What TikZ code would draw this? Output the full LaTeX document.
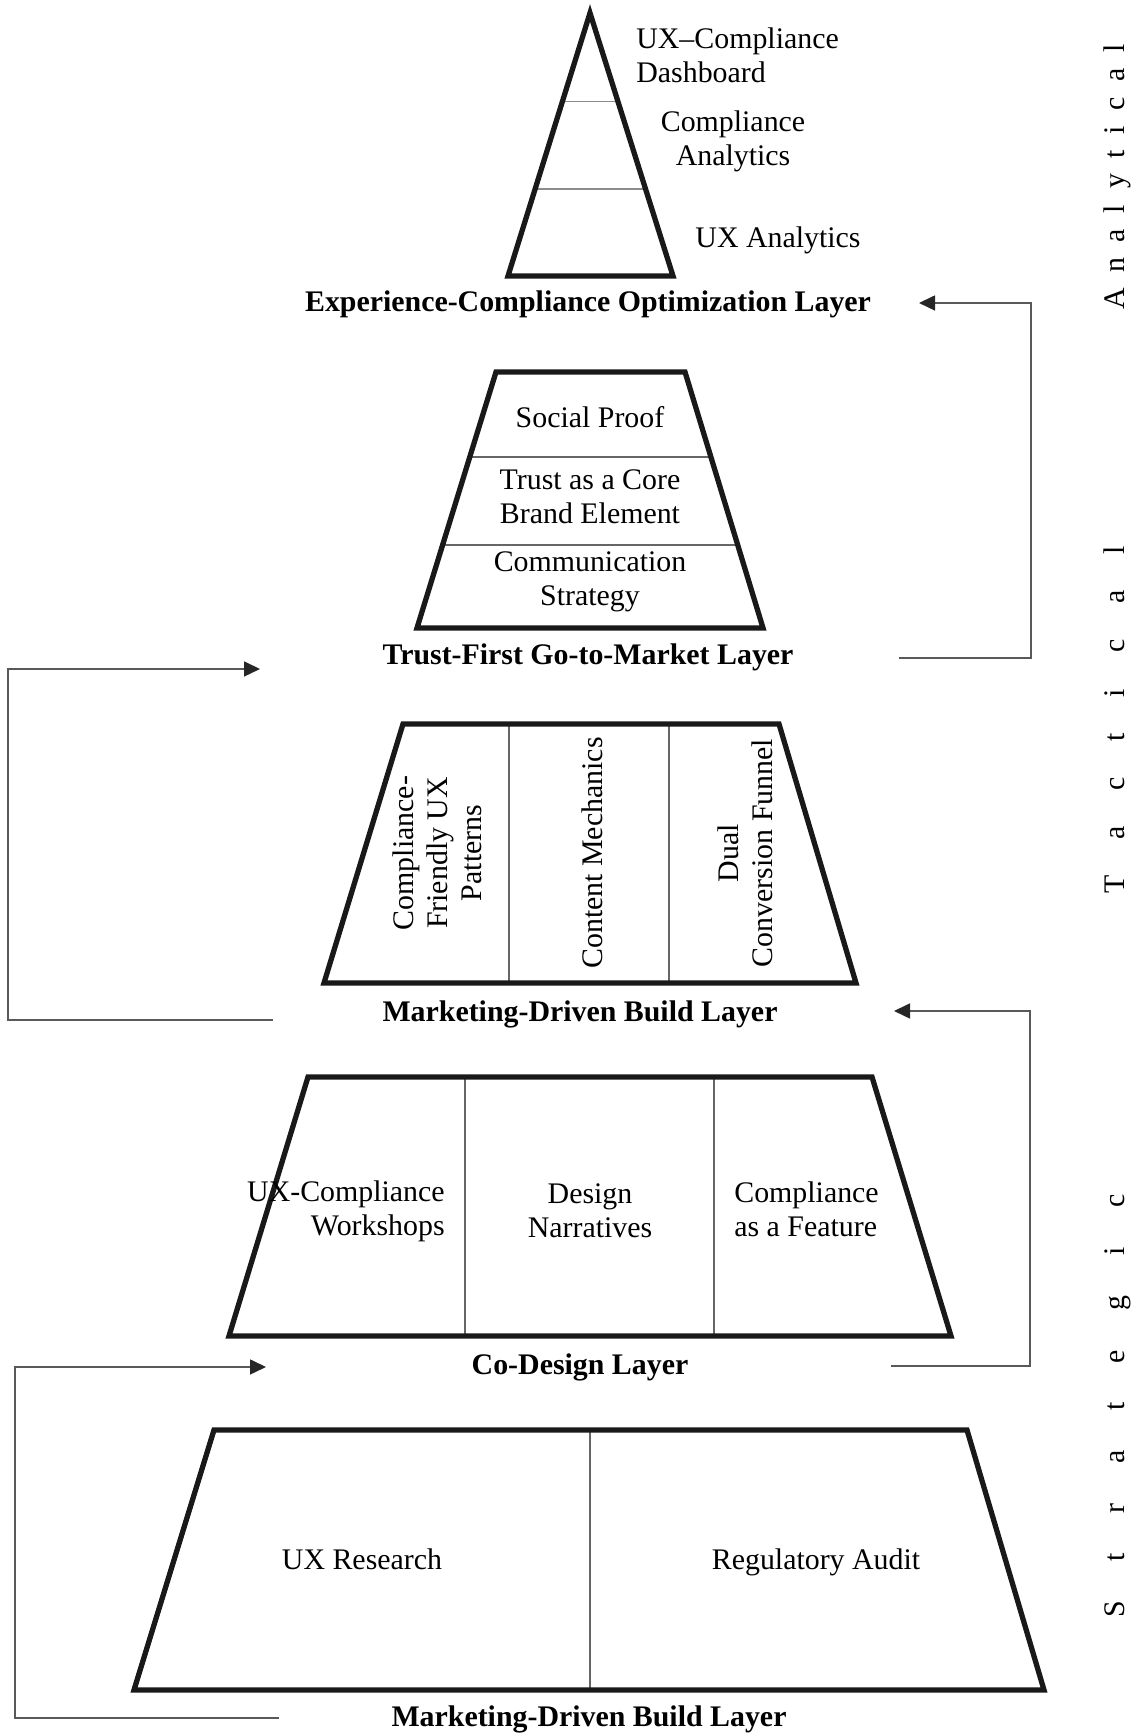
\documentclass[tikz,border=0pt]{standalone}
\usepackage{fontspec}
\setmainfont{Liberation Serif}
\usetikzlibrary{arrows.meta,calc}

\newcommand{\spreadword}[2]{\makebox[#1][s]{#2}}

\tikzset{
	layer/.style={draw=black!90, line width=3pt},
	split/.style={draw=black!60, line width=0.7pt},
	item/.style={inner sep=0pt, align=center},
	caption/.style={inner sep=0pt, anchor=base, font=\fontsize{17}{19.4}\selectfont\bfseries},
	flow/.style={draw=black!65, line width=0.9pt, ->},
	level/.style={inner sep=0pt, rotate=90, anchor=base},
}

\begin{document}
\begin{tikzpicture}[every node/.style={font=\fontsize{17}{19.4}\selectfont}, >={Triangle[length=0.32cm, width=0.3cm, color=black!85]}]
	\useasboundingbox (0,0) rectangle (22.74,34.70);
	% optimization layer (triangle)
	\coordinate (opA) at (11.80,34.44);
	\coordinate (opL) at (10.16,29.18);
	\coordinate (opR) at (13.46,29.18);
	\draw[split, draw=black!45] ($(opA)!0.338!(opL)$) -- ($(opA)!0.338!(opR)$);
	\draw[split, draw=black!45] ($(opA)!0.669!(opL)$) -- ($(opA)!0.669!(opR)$);
	\draw[layer] (opA) -- (opR) -- (opL) -- cycle;
	\node[item, anchor=west, align=left] (dash) at (12.72,33.60) {UX--Compliance\\Dashboard};
	\node[item] (cana) at (14.66,31.88) {Compliance\\Analytics};
	\node[item] (uxa) at (15.56,29.90) {UX Analytics};
	\node[caption] (optcap) at (11.76,28.46) {Experience-Compliance Optimization Layer};
	% go-to-market layer
	\coordinate (gmTL) at (9.92,27.26);
	\coordinate (gmTR) at (13.70,27.26);
	\coordinate (gmBR) at (15.26,22.14);
	\coordinate (gmBL) at (8.34,22.14);
	\draw[split] ($(gmTL)!0.332!(gmBL)$) -- ($(gmTR)!0.332!(gmBR)$);
	\draw[split] ($(gmTL)!0.676!(gmBL)$) -- ($(gmTR)!0.676!(gmBR)$);
	\draw[layer] (gmTL) -- (gmTR) -- (gmBR) -- (gmBL) -- cycle;
	\node[item] (proof) at (11.80,26.36) {Social Proof};
	\node[item] (core) at (11.80,24.76) {Trust as a Core\\Brand Element};
	\node[item] (comm) at (11.80,23.07) {Communication\\Strategy};
	\node[caption] (gtmcap) at (11.76,21.40) {Trust-First Go-to-Market Layer};
	% build layer
	\draw[split] (10.18,20.22) -- (10.18,15.04);
	\draw[split] (13.38,20.22) -- (13.38,15.04);
	\draw[layer] (8.06,20.22) -- (15.58,20.22) -- (17.12,15.04) -- (6.48,15.04) -- cycle;
	\node[item, rotate=90] (ptn) at (8.74,17.64) {Compliance-\\Friendly UX\\Patterns};
	\node[item, rotate=90] (mech) at (11.84,17.64) {Content Mechanics};
	\node[item, rotate=90] (fun) at (14.90,17.64) {Dual\\Conversion Funnel};
	\node[caption] (buildcap) at (11.60,14.26) {Marketing-Driven Build Layer};
	% co-design layer
	\draw[split] (9.30,13.16) -- (9.30,7.98);
	\draw[split] (14.28,13.16) -- (14.28,7.98);
	\draw[layer] (6.16,13.16) -- (17.44,13.16) -- (19.02,7.98) -- (4.58,7.98) -- cycle;
	\node[item, anchor=east, align=right] (work) at (8.90,10.47) {UX-Compliance\\Workshops};
	\node[item] (narr) at (11.80,10.49) {Design\\Narratives};
	\node[item, anchor=west, align=left] (feat) at (14.68,10.52) {Compliance\\as a Feature};
	\node[caption] (cocap) at (11.60,7.20) {Co-Design Layer};
	% base layer
	\draw[split] (11.80,6.10) -- (11.80,0.90);
	\draw[layer] (4.28,6.10) -- (19.34,6.10) -- (20.88,0.90) -- (2.68,0.90) -- cycle;
	\node[item, anchor=base] (res) at (7.24,3.30) {UX Research};
	\node[item, anchor=base] (audit) at (16.32,3.30) {Regulatory Audit};
	\node[caption] (basecap) at (11.78,0.16) {Marketing-Driven Build Layer};
	% feedback loops
	\coordinate (gtmR) at (17.98,21.54);
	\coordinate (optR) at (18.38,28.64);
	\draw[flow] (gtmR) -- (20.62,21.54) |- (optR);
	\coordinate (buildL) at (5.46,14.30);
	\coordinate (gtmL) at (5.20,21.32);
	\draw[flow] (buildL) -- (0.16,14.30) |- (gtmL);
	\coordinate (coR) at (17.82,7.38);
	\coordinate (buildR) at (17.88,14.48);
	\draw[flow] (coR) -- (20.60,7.38) |- (buildR);
	\coordinate (baseL) at (5.58,0.34);
	\coordinate (coL) at (5.32,7.36);
	\draw[flow] (baseL) -- (0.30,0.34) |- (coL);
	% levels
	\node[level] (ana) at (22.48,31.16) {\spreadword{5.32cm}{A\hfill n\hfill a\hfill l\hfill y\hfill t\hfill i\hfill c\hfill a\hfill l}};
	\node[level] (tac) at (22.48,20.30) {\spreadword{6.94cm}{T\hfill a\hfill c\hfill t\hfill i\hfill c\hfill a\hfill l}};
	\node[level] (str) at (22.48,6.58) {\spreadword{8.46cm}{S\hfill t\hfill r\hfill a\hfill t\hfill e\hfill g\hfill i\hfill c}};
\end{tikzpicture}
\end{document}
